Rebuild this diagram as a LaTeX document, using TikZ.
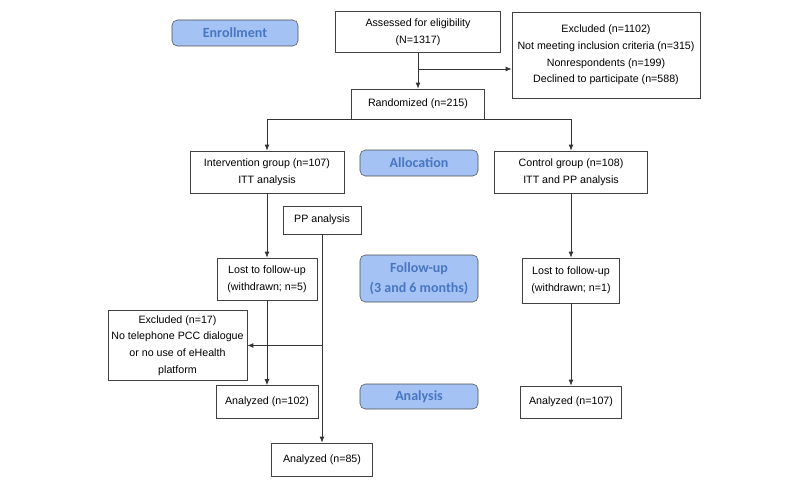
\documentclass[tikz,border=0pt]{standalone}
\usepackage{fontspec}
\setmainfont{Liberation Sans}
\newfontfamily\stagefont{Carlito}
\usetikzlibrary{arrows.meta}

\definecolor{stagefill}{RGB}{164,194,244}
\definecolor{stagetext}{RGB}{72,118,192}

\tikzstyle{box}=[draw=black!75,fill=white,align=center,inner sep=0pt,font=\fontsize{8}{12.4}\selectfont]
\tikzstyle{stage}=[draw=black!70,fill=stagefill,rounded corners=4pt,align=center,inner sep=0pt,text=stagetext,font=\stagefont\bfseries\fontsize{10.5}{14.5}\selectfont]
\tikzstyle{arr}=[-{Latex[length=4.5pt,width=3.5pt]},draw=black!80,line width=0.5pt]

\begin{document}
\begin{tikzpicture}[x=0.75pt,y=-0.75pt]

   \useasboundingbox (0,0) rectangle (800,485);

   % Stage labels
   \node[stage,minimum width=94.5pt,minimum height=19.5pt] (enroll) at (235,33) {Enrollment};
   \node[stage,minimum width=88.5pt,minimum height=19.5pt] (alloc) at (419,163) {Allocation};
   \node[stage,minimum width=88.5pt,minimum height=35.25pt] (follow) at (419,278.5) {Follow-up\\(3 and 6 months)};
   \node[stage,minimum width=88.5pt,minimum height=18.75pt] (analysis) at (419,396.5) {Analysis};

   % Enrollment
   \node[box,minimum width=123.75pt,minimum height=30.75pt] (assess) at (418,32) {Assessed for eligibility\\(N=1317)};
   \node[box,minimum width=141pt,minimum height=64.5pt] (excl) at (606,55) {Excluded (n=1102)\\Not meeting inclusion criteria (n=315)\\Nonrespondents (n=199)\\Declined to participate (n=588)};
   \node[box,minimum width=99.75pt,minimum height=22.5pt] (rand) at (418,104) {Randomized (n=215)};

   % Allocation
   \node[box,minimum width=115.5pt,minimum height=31.5pt] (interv) at (267,172) {Intervention group (n=107)\\ITT analysis};
   \node[box,minimum width=114.75pt,minimum height=31.5pt] (ctrl) at (571,172) {Control group (n=108)\\ITT and PP analysis};
   \node[box,minimum width=58.5pt,minimum height=21pt] (pp) at (322,220) {PP analysis};

   % Follow-up
   \node[box,minimum width=75pt,minimum height=31.5pt] (lostl) at (267,279) {Lost to follow-up\\(withdrawn; n=5)};
   \node[box,minimum width=72.75pt,minimum height=33.75pt] (lostr) at (571,280.5) {Lost to follow-up\\(withdrawn; n=1)};
   \node[box,minimum width=104.25pt,minimum height=52.5pt] (exclpp) at (177.5,345.5) {Excluded (n=17)\\No telephone PCC dialogue\\or no use of eHealth\\platform};

   % Analysis
   \node[box,minimum width=76.5pt,minimum height=24.75pt] (anitt) at (267,402) {Analyzed (n=102)};
   \node[box,minimum width=75.75pt,minimum height=24pt] (anctrl) at (571,402) {Analyzed (n=107)};
   \node[box,minimum width=75.75pt,minimum height=24.75pt] (anpp) at (322,459.5) {Analyzed (n=85)};

   % Connectors
   \coordinate (split) at (418,69);
   \draw[arr] (assess) -- (rand);
   \draw[arr] (split) -- (split -| excl.west);
   \draw[arr] (rand.south) -| (interv.north);
   \draw[arr] (rand.south) -| (ctrl.north);

   \draw[arr] (interv) -- (lostl);
   \draw[arr] (lostl) -- (anitt);
   \draw[arr] (ctrl) -- (lostr);
   \draw[arr] (lostr) -- (anctrl);

   \draw[arr] (pp) -- (anpp);
   \draw[arr] (pp.south |- exclpp.east) -- (exclpp.east);

\end{tikzpicture}
\end{document}
